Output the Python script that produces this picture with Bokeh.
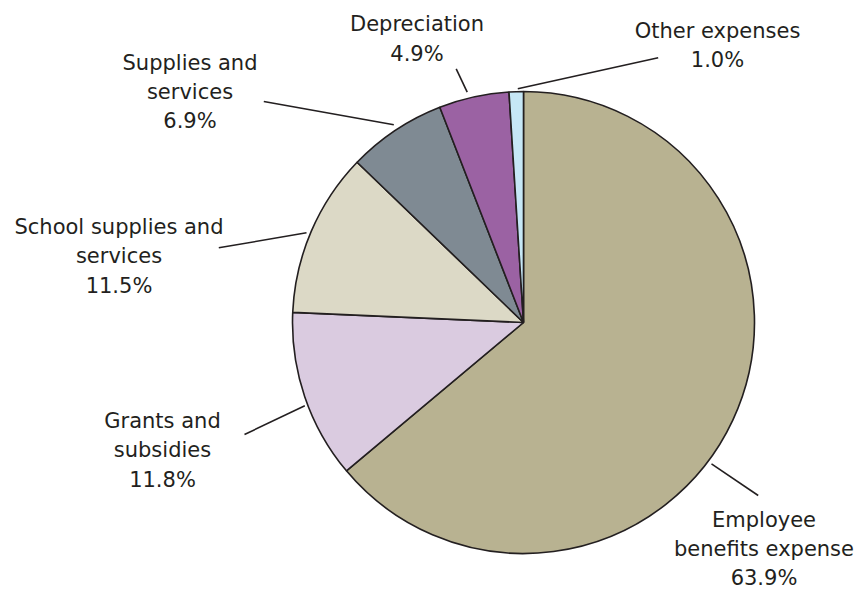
import math
from bokeh.plotting import figure
from bokeh.models import Range1d, ColumnDataSource
from bokeh.core.properties import value
from bokeh.embed import file_html
from bokeh.resources import INLINE

# ---- data ----
categories = ["Employee\nbenefits expense", "Grants and\nsubsidies", "School supplies and\nservices",
              "Supplies and\nservices", "Depreciation", "Other expenses"]
shares = [63.9, 11.8, 11.5, 6.9, 4.9, 1.0]
colors = ["#B8B291", "#DACBE0", "#DCD9C6", "#7F8A93", "#9B62A3", "#C6E7F6"]

# ---- layout (pixel units, pie centre at 0,0) ----
R = 231
label_x = [240.5, -361, -404.5, -333.5, -106.5, 194]
label_y = [-226.5, -128, 66, 230.3, 283.5, 277]
lead_out_x = [234.7, -279, -304.7, -259.7, -67.3, 134.7]
lead_out_y = [-173, -112, 74.7, 221, 253.7, 264.7]
lead_in_x = [188, -218.7, -217, -129.7, -56.3, -5.7]
lead_in_y = [-141.3, -83.3, 89.7, 197.7, 230.3, 233.7]

total = sum(shares)
starts, ends = [], []
cum = 0.0
for s in shares:
    a0 = math.radians(90 - cum / total * 360)
    cum += s
    a1 = math.radians(90 - cum / total * 360)
    starts.append(a1)
    ends.append(a0)

src = ColumnDataSource(dict(start=starts, end=ends, color=colors))

p = figure(width=859, height=590, output_backend="svg", toolbar_location=None,
           x_range=Range1d(-523, 336), y_range=Range1d(-268, 322), min_border=0)
p.axis.visible = False
p.grid.visible = False
p.outline_line_color = None
p.background_fill_color = "white"

p.wedge(x=0, y=0, radius=R, start_angle="start", end_angle="end", direction="anticlock",
        fill_color="color", line_color="#231F20", line_width=1.6, source=src)

p.segment(x0=lead_in_x, y0=lead_in_y, x1=lead_out_x, y1=lead_out_y,
          line_color="#231F20", line_width=1.6)

texts = [f"{c}\n{s:.1f}%" for c, s in zip(categories, shares)]
p.text(x=label_x, y=label_y, text=texts, text_align="center", text_baseline="middle",
       text_font=value("DejaVu Sans"), text_font_size="21px", text_color="#231F20",
       text_line_height=1.21)

open("out.html", "w").write(file_html(p, INLINE))
